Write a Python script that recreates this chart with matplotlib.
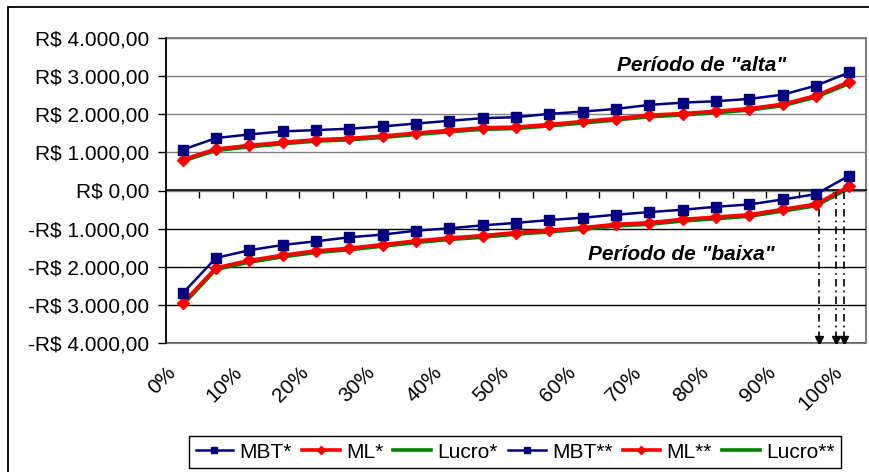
import matplotlib
matplotlib.use("Agg")
import matplotlib.pyplot as plt
from matplotlib.patches import Rectangle
from matplotlib.ticker import FixedLocator, FuncFormatter
from matplotlib.transforms import ScaledTranslation

plt.rcParams['font.family'] = ['Liberation Sans', 'DejaVu Sans']

# categories: 0%, 5%, ..., 100%  (21 points)
pct = list(range(0, 101, 5))
tick_labels = ["0%", "10%", "20%", "30%", "40%", "50%", "60%", "70%", "80%", "90%", "100%"]

# "alta" period
mbt_1 = [1070, 1375, 1470, 1550, 1585, 1620, 1680, 1757, 1827, 1897, 1924,
         2010, 2070, 2141, 2245, 2305, 2342, 2402, 2514, 2750, 3099]
ml_1 = [809, 1088, 1183, 1262, 1332, 1366, 1428, 1506, 1575, 1645, 1662,
        1732, 1810, 1888, 1976, 2019, 2080, 2149, 2263, 2488, 2854]
lucro_1 = [775, 1050, 1145, 1225, 1295, 1330, 1390, 1470, 1540, 1605, 1625,
           1695, 1770, 1850, 1935, 1980, 2040, 2110, 2225, 2450, 2810]

# "baixa" period
mbt_2 = [-2697, -1767, -1567, -1428, -1332, -1227, -1157, -1053, -992, -914, -850,
         -775, -714, -635, -566, -505, -427, -366, -235, -96, 392]
ml_2 = [-2958, -2028, -1836, -1697, -1584, -1514, -1418, -1323, -1245, -1184, -1105,
        -1044, -975, -888, -844, -757, -697, -635, -496, -357, 113]
lucro_2 = [-3000, -2070, -1880, -1740, -1625, -1555, -1460, -1365, -1285, -1225, -1145,
           -1085, -1015, -930, -885, -800, -740, -675, -540, -400, 70]

# break-even arrows (category position, start value)
arrow_x = [19.1, 19.6, 19.83]
arrow_top = [-370, -30, -30]

x = list(range(len(pct)))

fig = plt.figure(figsize=(8.69, 4.72), dpi=100)
ax = fig.add_axes([166/869, 1 - 343/472, 700/869, 305/472])

# outer chart frame
fig.patches.append(Rectangle((8/869, -0.1), 1.0, 1.1 - 7/472, transform=fig.transFigure,
                             fill=False, edgecolor='black', linewidth=1.3))

navy = '#000080'
red = '#ff0000'
green = '#008000'

ax.plot(x, lucro_1, color=green, lw=2.6, label="Lucro*", zorder=3)
ax.plot(x, ml_1, color=red, lw=2.6, marker='D', ms=6, label="ML*", zorder=4)
ax.plot(x, mbt_1, color=navy, lw=1.8, marker='s', ms=6.5, label="MBT*", zorder=5)
ax.plot(x, lucro_2, color=green, lw=2.6, label="Lucro**", zorder=3)
ax.plot(x, ml_2, color=red, lw=2.6, marker='D', ms=6, label="ML**", zorder=4)
ax.plot(x, mbt_2, color=navy, lw=1.8, marker='s', ms=6.5, label="MBT**", zorder=5)

for xa, ya in zip(arrow_x, arrow_top):
    ax.vlines(xa, -3900, ya, colors='black', linewidth=1.2,
              linestyles=(0, (4.5, 2.5, 1, 2.5)), zorder=6)
    ax.plot([xa], [-3930], marker='v', color='black', ms=5.5, zorder=6)

ax.text(15.56, 3290, 'Período de "alta"', fontsize=15, fontweight='bold',
        fontstyle='italic', ha='center', va='center')
ax.text(14.96, -1670, 'Período de "baixa"', fontsize=15, fontweight='bold',
        fontstyle='italic', ha='center', va='center')

ax.set_xlim(-0.5, len(pct) - 0.5)
ax.set_ylim(-4000, 4000)

# spines first (set_position resets the ticks)
ax.spines['top'].set_position(('data', 0))
ax.spines['top'].set_linewidth(1.2)
ax.spines['left'].set_linewidth(1.2)
ax.spines['bottom'].set_visible(False)
ax.spines['right'].set_visible(False)
ax.patch.set_edgecolor('#808080')
ax.patch.set_linewidth(1.5)

# y axis
ax.set_yticks(range(-4000, 4001, 1000))


def real(v, pos):
    s = "{:,.2f}".format(abs(v)).replace(",", "X").replace(".", ",").replace("X", ".")
    return ("-R$ " if v < 0 else "R$ ") + s


ax.yaxis.set_major_formatter(FuncFormatter(real))
ax.tick_params(axis='y', labelsize=15, length=6, width=1, direction='out', pad=6)
ax.yaxis.grid(True, linewidth=1, zorder=0)
for val, gl in zip(range(-4000, 4001, 1000), ax.get_ygridlines()):
    gl.set_color('black' if val < 0 else '#808080')
ax.set_axisbelow(True)

# x axis: line at zero with ticks between categories, labels at the bottom
ax.xaxis.set_minor_locator(FixedLocator([i + 0.5 for i in x[:-1]]))
ax.tick_params(axis='x', which='major', bottom=True, top=False, length=0,
               labelsize=15, pad=14)
ax.tick_params(axis='x', which='minor', bottom=False, top=True, direction='in',
               length=6, width=1, color='black')
ax.set_xticks(x[::2], labels=tick_labels, rotation=45, ha='right',
              rotation_mode='anchor')
shift = ScaledTranslation(-17/100, 0, fig.dpi_scale_trans)
for lab in ax.get_xticklabels():
    lab.set_transform(lab.get_transform() + shift)

handles, labels = ax.get_legend_handles_labels()
order = ["MBT*", "ML*", "Lucro*", "MBT**", "ML**", "Lucro**"]
hl = dict(zip(labels, handles))
leg = fig.legend([hl[k] for k in order], order, loc='center',
                 bbox_to_anchor=(515/869, 1 - 452/472), ncol=6, fontsize=15,
                 handlelength=1.8, handletextpad=0.3, columnspacing=0.5,
                 fancybox=False, markerscale=0.7, borderpad=0.3, framealpha=1)
leg.get_frame().set_edgecolor('black')
leg.get_frame().set_linewidth(1)

fig.savefig("out.png", dpi=100)
